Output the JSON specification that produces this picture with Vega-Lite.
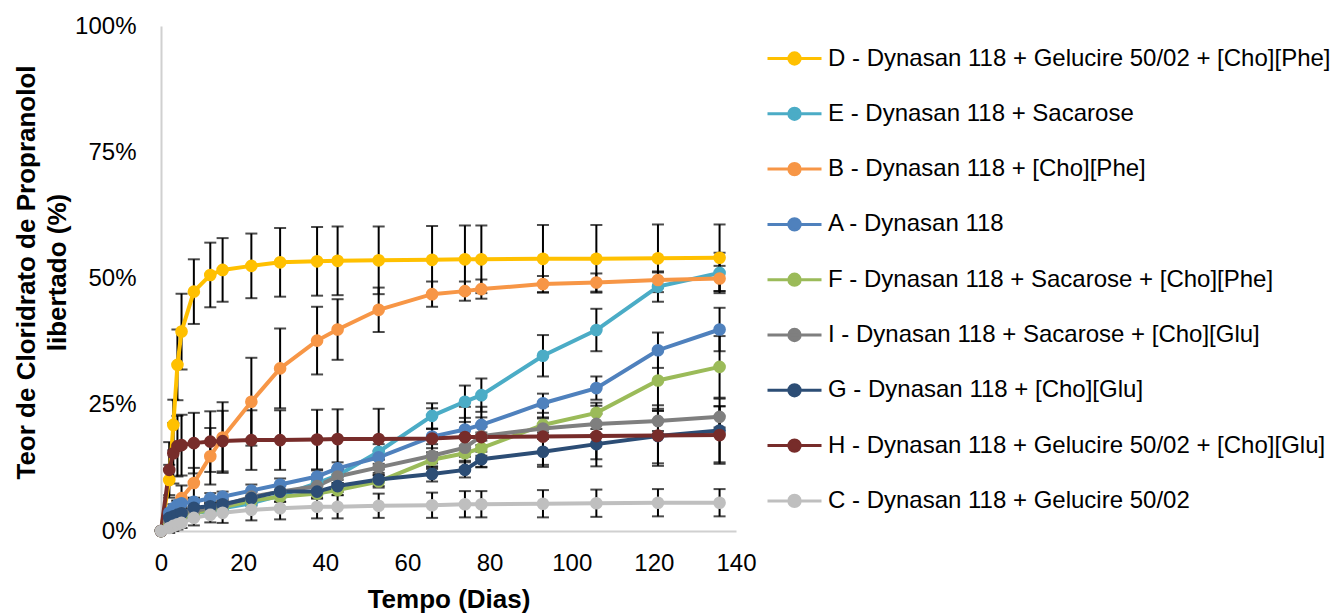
{
  "$schema": "https://vega.github.io/schema/vega-lite/v6.json",
  "autosize": "none",
  "width": 575,
  "height": 505,
  "padding": {"left": 161, "top": 26, "right": 598, "bottom": 82},
  "background": "white",
  "config": {"view": {"stroke": null}, "font": "Liberation Sans"},
  "datasets": {
    "names": [
      {"s": "D", "n": "D - Dynasan 118 + Gelucire 50/02 + [Cho][Phe]"},
      {"s": "E", "n": "E - Dynasan 118 + Sacarose"},
      {"s": "B", "n": "B - Dynasan 118 + [Cho][Phe]"},
      {"s": "A", "n": "A - Dynasan 118"},
      {"s": "F", "n": "F - Dynasan 118 + Sacarose + [Cho][Phe]"},
      {"s": "I", "n": "I - Dynasan 118 + Sacarose + [Cho][Glu]"},
      {"s": "G", "n": "G - Dynasan 118 + [Cho][Glu]"},
      {"s": "H", "n": "H - Dynasan 118 + Gelucire 50/02 + [Cho][Glu]"},
      {"s": "C", "n": "C - Dynasan 118 + Gelucire 50/02"}
    ]
  },
  "data": {"values": [
    {"s":"D","d":0,"v":0,"e":0},{"s":"D","d":2,"v":10.1,"e":3},{"s":"D","d":3,"v":21.0,"e":5},{"s":"D","d":4,"v":32.9,"e":7},{"s":"D","d":5,"v":39.5,"e":7.5},{"s":"D","d":8,"v":47.4,"e":6.4},{"s":"D","d":12,"v":50.7,"e":6.4},{"s":"D","d":15,"v":51.7,"e":6.3},{"s":"D","d":22,"v":52.5,"e":6.4},{"s":"D","d":29,"v":53.2,"e":6.8},{"s":"D","d":38,"v":53.4,"e":6.8},{"s":"D","d":43,"v":53.5,"e":6.8},{"s":"D","d":53,"v":53.6,"e":6.7},{"s":"D","d":66,"v":53.7,"e":6.7},{"s":"D","d":74,"v":53.8,"e":6.7},{"s":"D","d":78,"v":53.8,"e":6.7},{"s":"D","d":93,"v":53.9,"e":6.7},{"s":"D","d":106,"v":53.9,"e":6.7},{"s":"D","d":121,"v":54.0,"e":6.7},{"s":"D","d":136,"v":54.1,"e":6.6},
    {"s":"E","d":0,"v":0,"e":0},{"s":"E","d":2,"v":1.5,"e":0.8},{"s":"E","d":3,"v":2,"e":0.8},{"s":"E","d":4,"v":2.5,"e":0.8},{"s":"E","d":5,"v":3,"e":0.8},{"s":"E","d":8,"v":3.5,"e":1},{"s":"E","d":12,"v":4,"e":1},{"s":"E","d":15,"v":4.5,"e":1},{"s":"E","d":22,"v":5.5,"e":1.2},{"s":"E","d":29,"v":7,"e":1.2},{"s":"E","d":38,"v":9.5,"e":1.5},{"s":"E","d":43,"v":11,"e":1.5},{"s":"E","d":53,"v":15.7,"e":1.5},{"s":"E","d":66,"v":22.8,"e":2.5},{"s":"E","d":74,"v":25.6,"e":3.2},{"s":"E","d":78,"v":26.9,"e":3.3},{"s":"E","d":93,"v":34.7,"e":4.1},{"s":"E","d":106,"v":39.8,"e":4.2},{"s":"E","d":121,"v":48.4,"e":3.0},{"s":"E","d":136,"v":51.1,"e":4.0},
    {"s":"B","d":0,"v":0,"e":0},{"s":"B","d":2,"v":1.5,"e":1},{"s":"B","d":3,"v":2.5,"e":1.5},{"s":"B","d":4,"v":4,"e":2},{"s":"B","d":5,"v":6.5,"e":2.5},{"s":"B","d":8,"v":9.5,"e":3},{"s":"B","d":12,"v":14.8,"e":5.6},{"s":"B","d":15,"v":18.5,"e":7},{"s":"B","d":22,"v":25.6,"e":8.7},{"s":"B","d":29,"v":32.2,"e":7.9},{"s":"B","d":38,"v":37.7,"e":6.7},{"s":"B","d":43,"v":39.9,"e":6.0},{"s":"B","d":53,"v":43.8,"e":4.4},{"s":"B","d":66,"v":46.9,"e":2.5},{"s":"B","d":74,"v":47.5,"e":1.9},{"s":"B","d":78,"v":47.9,"e":1.9},{"s":"B","d":93,"v":48.9,"e":1.6},{"s":"B","d":106,"v":49.2,"e":1.8},{"s":"B","d":121,"v":49.7,"e":1.5},{"s":"B","d":136,"v":50.0,"e":2.5},
    {"s":"A","d":0,"v":0,"e":0},{"s":"A","d":2,"v":3.6,"e":0.8},{"s":"A","d":3,"v":4.5,"e":0.8},{"s":"A","d":4,"v":5.2,"e":0.8},{"s":"A","d":5,"v":5.5,"e":0.8},{"s":"A","d":8,"v":5.8,"e":0.8},{"s":"A","d":12,"v":6.5,"e":1},{"s":"A","d":15,"v":6.8,"e":1},{"s":"A","d":22,"v":8.0,"e":1.2},{"s":"A","d":29,"v":9.2,"e":1.2},{"s":"A","d":38,"v":10.8,"e":1.2},{"s":"A","d":43,"v":12.4,"e":1.2},{"s":"A","d":53,"v":14.6,"e":1.3},{"s":"A","d":66,"v":18.7,"e":1.5},{"s":"A","d":74,"v":20.1,"e":1.5},{"s":"A","d":78,"v":21.0,"e":1.5},{"s":"A","d":93,"v":25.3,"e":1.9},{"s":"A","d":106,"v":28.3,"e":2.3},{"s":"A","d":121,"v":35.8,"e":3.5},{"s":"A","d":136,"v":39.9,"e":4.3},
    {"s":"F","d":0,"v":0,"e":0},{"s":"F","d":2,"v":1.5,"e":0.5},{"s":"F","d":3,"v":2,"e":0.5},{"s":"F","d":4,"v":2.5,"e":0.5},{"s":"F","d":5,"v":3,"e":0.5},{"s":"F","d":8,"v":3.5,"e":0.8},{"s":"F","d":12,"v":4.2,"e":0.8},{"s":"F","d":15,"v":4.7,"e":0.8},{"s":"F","d":22,"v":6.0,"e":1},{"s":"F","d":29,"v":6.8,"e":1},{"s":"F","d":38,"v":7.4,"e":1},{"s":"F","d":43,"v":8.1,"e":1},{"s":"F","d":53,"v":9.8,"e":1.2},{"s":"F","d":66,"v":14.1,"e":1.5},{"s":"F","d":74,"v":15.4,"e":1.5},{"s":"F","d":78,"v":16.4,"e":1.5},{"s":"F","d":93,"v":21.0,"e":1.5},{"s":"F","d":106,"v":23.4,"e":2},{"s":"F","d":121,"v":29.8,"e":6},{"s":"F","d":136,"v":32.5,"e":6.1},
    {"s":"I","d":0,"v":0,"e":0},{"s":"I","d":2,"v":2,"e":0.8},{"s":"I","d":3,"v":2.5,"e":0.8},{"s":"I","d":4,"v":3,"e":0.8},{"s":"I","d":5,"v":3.5,"e":0.8},{"s":"I","d":8,"v":4,"e":1},{"s":"I","d":12,"v":4.5,"e":1},{"s":"I","d":15,"v":5,"e":1},{"s":"I","d":22,"v":6.8,"e":1.2},{"s":"I","d":29,"v":7.8,"e":1.2},{"s":"I","d":38,"v":8.9,"e":1.2},{"s":"I","d":43,"v":10.8,"e":1.3},{"s":"I","d":53,"v":12.6,"e":1.5},{"s":"I","d":66,"v":14.9,"e":1.5},{"s":"I","d":74,"v":16.5,"e":1.8},{"s":"I","d":78,"v":18.8,"e":1.8},{"s":"I","d":93,"v":20.3,"e":2},{"s":"I","d":106,"v":21.2,"e":2},{"s":"I","d":121,"v":21.8,"e":2},{"s":"I","d":136,"v":22.6,"e":2.1},
    {"s":"G","d":0,"v":0,"e":0},{"s":"G","d":2,"v":2.6,"e":0.8},{"s":"G","d":3,"v":2.9,"e":0.8},{"s":"G","d":4,"v":3.2,"e":0.8},{"s":"G","d":5,"v":3.5,"e":0.8},{"s":"G","d":8,"v":4.6,"e":1},{"s":"G","d":12,"v":4.9,"e":1},{"s":"G","d":15,"v":5.3,"e":1},{"s":"G","d":22,"v":6.5,"e":1.2},{"s":"G","d":29,"v":7.8,"e":1.2},{"s":"G","d":38,"v":7.8,"e":1.2},{"s":"G","d":43,"v":8.9,"e":1.2},{"s":"G","d":53,"v":10.2,"e":1.3},{"s":"G","d":66,"v":11.3,"e":1.5},{"s":"G","d":74,"v":12.1,"e":1.5},{"s":"G","d":78,"v":14.2,"e":1.5},{"s":"G","d":93,"v":15.7,"e":2.6},{"s":"G","d":106,"v":17.2,"e":3},{"s":"G","d":121,"v":18.8,"e":5.4},{"s":"G","d":136,"v":19.9,"e":6.3},
    {"s":"H","d":0,"v":0,"e":0},{"s":"H","d":2,"v":12.1,"e":5.5},{"s":"H","d":3,"v":15.4,"e":6},{"s":"H","d":4,"v":16.8,"e":6},{"s":"H","d":5,"v":17.0,"e":6},{"s":"H","d":8,"v":17.4,"e":6},{"s":"H","d":12,"v":17.7,"e":6},{"s":"H","d":15,"v":17.8,"e":6},{"s":"H","d":22,"v":18.0,"e":5.9},{"s":"H","d":29,"v":18.0,"e":5.9},{"s":"H","d":38,"v":18.1,"e":5.9},{"s":"H","d":43,"v":18.2,"e":5.9},{"s":"H","d":53,"v":18.2,"e":6},{"s":"H","d":66,"v":18.3,"e":6},{"s":"H","d":74,"v":18.6,"e":6},{"s":"H","d":78,"v":18.6,"e":6},{"s":"H","d":93,"v":18.7,"e":6},{"s":"H","d":106,"v":18.8,"e":6},{"s":"H","d":121,"v":18.9,"e":6},{"s":"H","d":136,"v":19.0,"e":5.7},
    {"s":"C","d":0,"v":0,"e":0},{"s":"C","d":2,"v":0.6,"e":1},{"s":"C","d":3,"v":1.0,"e":1},{"s":"C","d":4,"v":1.3,"e":1},{"s":"C","d":5,"v":1.6,"e":1},{"s":"C","d":8,"v":2.6,"e":1.5},{"s":"C","d":12,"v":3.2,"e":1.5},{"s":"C","d":15,"v":3.6,"e":2},{"s":"C","d":22,"v":4.2,"e":2.1},{"s":"C","d":29,"v":4.5,"e":2.2},{"s":"C","d":38,"v":4.8,"e":2.3},{"s":"C","d":43,"v":4.8,"e":2.3},{"s":"C","d":53,"v":5.0,"e":2.4},{"s":"C","d":66,"v":5.1,"e":2.5},{"s":"C","d":74,"v":5.3,"e":2.6},{"s":"C","d":78,"v":5.3,"e":2.6},{"s":"C","d":93,"v":5.4,"e":2.7},{"s":"C","d":106,"v":5.5,"e":2.7},{"s":"C","d":121,"v":5.6,"e":2.7},{"s":"C","d":136,"v":5.6,"e":2.7}
  ]},
  "transform": [
    {"lookup": "s", "from": {"data": {"name": "names"}, "key": "s", "fields": ["n"]}}
  ],
  "encoding": {
    "x": {
      "field": "d", "type": "quantitative",
      "scale": {"domain": [0, 140], "nice": false, "zero": true},
      "axis": {
        "title": "Tempo (Dias)", "values": [0, 20, 40, 60, 80, 100, 120, 140],
        "ticks": false, "grid": false, "domainColor": "#D0D0D0", "domainWidth": 2,
        "labelFont": "Liberation Sans", "labelFontSize": 24, "labelColor": "#000000", "labelPadding": 20,
        "labelFlush": false, "labelOverlap": false,
        "titleFont": "Liberation Sans", "titleFontSize": 26, "titleFontWeight": "bold", "titleColor": "#000000", "titlePadding": 11
      }
    },
    "y": {
      "field": "v", "type": "quantitative",
      "scale": {"domain": [0, 100], "nice": false},
      "axis": {
        "title": ["Teor de Cloridrato de Propranolol", "libertado (%)"],
        "values": [0, 25, 50, 75, 100], "labelExpr": "datum.value + '%'",
        "ticks": false, "grid": false, "domainColor": "#D0D0D0", "domainWidth": 2,
        "labelFont": "Liberation Sans", "labelFontSize": 24, "labelColor": "#000000", "labelPadding": 25,
        "labelFlush": false, "labelOverlap": false,
        "titleFont": "Liberation Sans", "titleFontSize": 26, "titleFontWeight": "bold", "titleColor": "#000000",
        "titleLineHeight": 31, "titleX": -122, "titleY": 246
      }
    }
  },
  "layer": [
    {
      "mark": {"type": "errorbar", "ticks": {"size": 12}, "color": "#000000", "thickness": 2},
      "encoding": {
        "y": {"field": "v", "type": "quantitative"},
        "yError": {"field": "e"}
      }
    },
    {
      "mark": {"type": "line", "strokeWidth": 4},
      "encoding": {
        "color": {
          "field": "n", "type": "nominal",
          "scale": {
            "domain": ["D - Dynasan 118 + Gelucire 50/02 + [Cho][Phe]", "E - Dynasan 118 + Sacarose", "B - Dynasan 118 + [Cho][Phe]", "A - Dynasan 118", "F - Dynasan 118 + Sacarose + [Cho][Phe]", "I - Dynasan 118 + Sacarose + [Cho][Glu]", "G - Dynasan 118 + [Cho][Glu]", "H - Dynasan 118 + Gelucire 50/02 + [Cho][Glu]", "C - Dynasan 118 + Gelucire 50/02"],
            "range": ["#FFC000", "#4BACC6", "#F79646", "#4F81BD", "#9BBB59", "#7F7F7F", "#2C4D75", "#772C2A", "#BFBFBF"]
          },
          "legend": {
            "title": null, "orient": "none", "legendX": 605, "legendY": 4,
            "symbolType": "M-1,0L1,0M0.21,0A0.21,0.21,0,1,1,-0.21,0A0.21,0.21,0,1,1,0.21,0Z",
            "symbolSize": 2916, "symbolStrokeWidth": 3, "symbolOpacity": 1,
            "labelFont": "Liberation Sans", "labelFontSize": 24, "labelColor": "#000000",
            "labelOffset": 5, "rowPadding": 14.3, "labelLimit": 700,
            "encode": {"symbols": {"update": {"fill": {"scale": "color", "field": "value"}, "stroke": {"scale": "color", "field": "value"}}}}
          }
        }
      }
    },
    {
      "mark": {"type": "point", "filled": true, "size": 160, "opacity": 1},
      "encoding": {
        "color": {"field": "n", "type": "nominal"}
      }
    }
  ]
}
